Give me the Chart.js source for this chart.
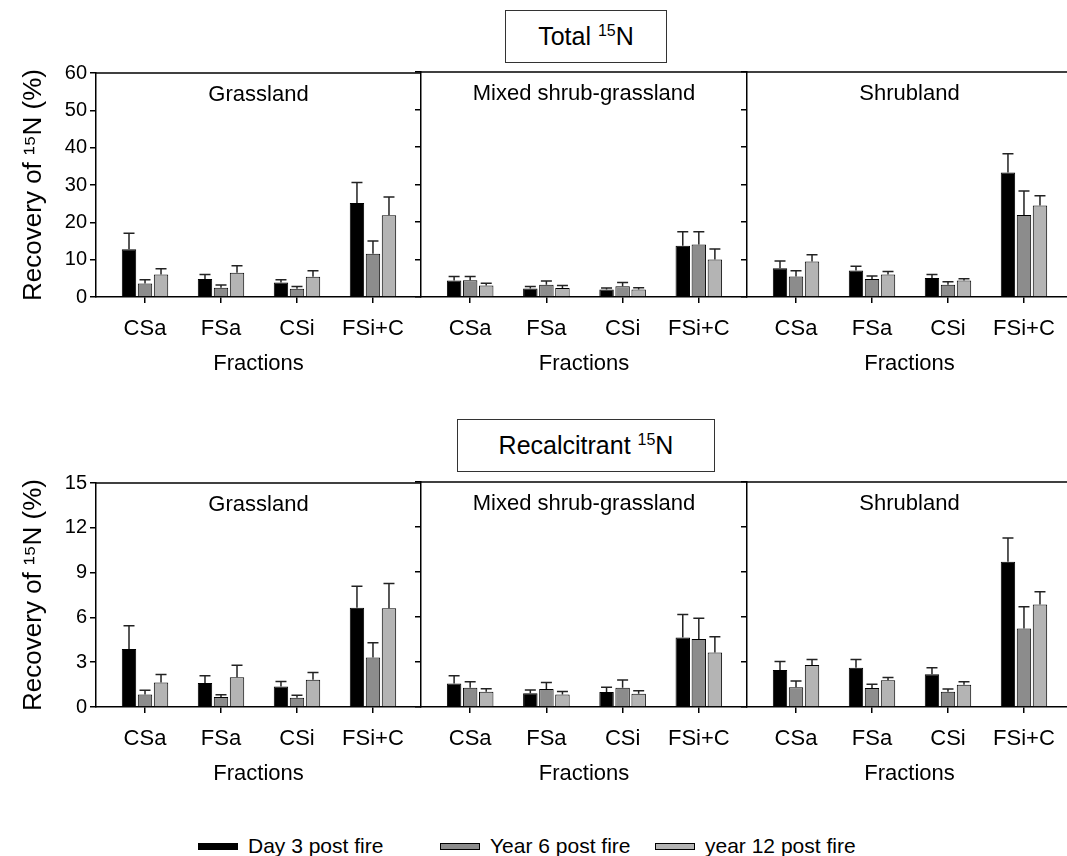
<!DOCTYPE html>
<html>
<head>
<meta charset="utf-8">
<script src="https://cdn.jsdelivr.net/npm/chart.js@4.4.0/dist/chart.umd.min.js"></script>
<style>
  html, body { margin: 0; padding: 0; background: #fff; }
  body { width: 1067px; height: 856px; overflow: hidden; position: relative;
         font-family: "Liberation Sans", Arial, sans-serif; color: #000; }
  canvas { position: absolute; }
  .box { position: absolute; border: 1px solid #333; box-sizing: border-box;
         text-align: center; font-size: 25px; line-height: 51px; }
  .box sup { font-size: 16px; line-height: 0; }
  .item { position: absolute; top: 834px; font-size: 21px; line-height: 24px; white-space: nowrap; }
  .sw { display: inline-block; width: 38px; height: 5px; border: 1px solid #000;
        vertical-align: middle; margin-right: 10px; position: relative; top: -1px; }
</style>
</head>
<body>
<div class="box" style="left:505px; top:10px; width:162px; height:53px;">Total <sup>15</sup>N</div>
<div class="box" style="left:457px; top:419px; width:258px; height:53px;">Recalcitrant <sup>15</sup>N</div>

<canvas id="t0" width="421" height="320" style="left:0px; top:58px;"></canvas>
<canvas id="t1" width="332" height="320" style="left:415px; top:58px;"></canvas>
<canvas id="t2" width="331" height="320" style="left:741px; top:58px;"></canvas>
<canvas id="r0" width="421" height="320" style="left:0px; top:468px;"></canvas>
<canvas id="r1" width="332" height="320" style="left:415px; top:468px;"></canvas>
<canvas id="r2" width="331" height="320" style="left:741px; top:468px;"></canvas>

<div class="item" style="left:198px;"><span class="sw" style="background:#000000"></span>Day 3 post fire</div>
<div class="item" style="left:440px;"><span class="sw" style="background:#8c8c8c"></span>Year 6 post fire</div>
<div class="item" style="left:655px;"><span class="sw" style="background:#b4b4b4"></span>year 12 post fire</div>

<script>
const fractions = ['CSa', 'FSa', 'CSi', 'FSi+C'];
const sites = ['Grassland', 'Mixed shrub-grassland', 'Shrubland'];
const seriesNames = ['Day 3 post fire', 'Year 6 post fire', 'year 12 post fire'];
const seriesColors = ['#000000', '#8c8c8c', '#b4b4b4'];

// values per series: 4 fractions for each site, in site order
const totalDay3   = [12.8, 4.8, 3.9, 25.2,  4.4, 2.3, 2.0, 13.7,  7.7, 7.1, 5.1, 33.2];
const totalYear6  = [3.6, 2.5, 2.2, 11.6,   4.5, 3.3, 2.9, 14.0,  5.5, 4.8, 3.3, 21.9];
const totalYear12 = [6.0, 6.5, 5.4, 21.9,   3.1, 2.4, 2.0, 10.0,  9.5, 6.0, 4.4, 24.4];
const totalDay3Se   = [4.3, 1.2, 0.7, 5.5,  1.1, 0.5, 0.4, 3.7,  1.9, 1.1, 0.9, 5.0];
const totalYear6Se  = [1.0, 0.7, 0.6, 3.4,  1.0, 1.0, 1.0, 3.4,  1.5, 0.8, 0.8, 6.4];
const totalYear12Se = [1.6, 1.9, 1.6, 4.9,  0.6, 0.7, 0.5, 2.8,  1.8, 0.8, 0.5, 2.6];

const recalDay3   = [3.89, 1.60, 1.38, 6.64,  1.56, 0.91, 1.00, 4.64,  2.47, 2.62, 2.18, 9.69];
const recalYear6  = [0.84, 0.67, 0.62, 3.31,  1.29, 1.20, 1.29, 4.53,  1.31, 1.27, 1.02, 5.24];
const recalYear12 = [1.64, 2.00, 1.82, 6.62,  1.02, 0.84, 0.89, 3.64,  2.80, 1.78, 1.49, 6.84];
const recalDay3Se   = [1.55, 0.49, 0.33, 1.45,  0.53, 0.22, 0.31, 1.52,  0.57, 0.54, 0.44, 1.58];
const recalYear6Se  = [0.29, 0.15, 0.16, 1.00,  0.40, 0.44, 0.51, 1.38,  0.42, 0.24, 0.18, 1.45];
const recalYear12Se = [0.54, 0.80, 0.49, 1.65,  0.20, 0.20, 0.20, 1.05,  0.36, 0.18, 0.20, 0.85];

const totalYTicks = [0, 10, 20, 30, 40, 50, 60];
const recalYTicks = [0, 3, 6, 9, 12, 15];

Chart.defaults.font.family = '"Liberation Sans", Arial, sans-serif';
Chart.defaults.color = '#000';

// top frame line + site name inside the plot
const panelFrame = {
    id: 'panelFrame',
    afterDraw(chart, args, opts) {
        const { ctx, chartArea: a } = chart;
        ctx.save();
        ctx.strokeStyle = '#000';
        ctx.lineWidth = 1.5;
        ctx.beginPath();
        ctx.moveTo(a.left, a.top);
        ctx.lineTo(a.right, a.top);
        ctx.stroke();
        ctx.font = '22px "Liberation Sans", Arial, sans-serif';
        ctx.fillStyle = '#000';
        ctx.textAlign = 'center';
        ctx.textBaseline = 'middle';
        ctx.fillText(opts.text, (a.left + a.right) / 2, a.top + 22);
        ctx.restore();
    }
};

// upper error bars
const errorBars = {
    id: 'errorBars',
    afterDatasetsDraw(chart) {
        const { ctx } = chart;
        const yScale = chart.scales.y;
        ctx.save();
        ctx.strokeStyle = '#222';
        ctx.lineWidth = 1.5;
        chart.data.datasets.forEach((ds, di) => {
            chart.getDatasetMeta(di).data.forEach((bar, i) => {
                const top = yScale.getPixelForValue(ds.data[i].y + ds.errors[i]);
                ctx.beginPath();
                ctx.moveTo(bar.x, bar.y);
                ctx.lineTo(bar.x, top);
                ctx.moveTo(bar.x - 5.5, top);
                ctx.lineTo(bar.x + 5.5, top);
                ctx.stroke();
            });
        });
        ctx.restore();
    }
};

function makePanel(id, siteIdx, values, errors, yTicks) {
    const first = siteIdx === 0;
    const from = siteIdx * 4;
    const datasets = values.map((vals, s) => ({
        label: seriesNames[s],
        data: vals.slice(from, from + 4).map((v, i) => ({ x: i, y: v })),
        errors: errors[s].slice(from, from + 4),
        backgroundColor: seriesColors[s],
        borderColor: '#000',
        borderWidth: 1,
        categoryPercentage: 0.632,
        barPercentage: 0.9
    }));

    new Chart(document.getElementById(id), {
        type: 'bar',
        data: { datasets },
        plugins: [panelFrame, errorBars],
        options: {
            responsive: false,
            animation: false,
            devicePixelRatio: 1,
            layout: { padding: { top: 14, right: 0, bottom: 0, left: 0 } },
            plugins: {
                legend: { display: false },
                tooltip: { enabled: false },
                panelFrame: { text: sites[siteIdx] }
            },
            scales: {
                x: {
                    type: 'linear',
                    min: -0.645,
                    max: 3.632,
                    bounds: 'data',
                    offset: false,
                    afterBuildTicks: s => { s.ticks = fractions.map((f, i) => ({ value: i })); },
                    afterFit: s => { s.height = 81; },
                    grid: { display: true, offset: false, drawOnChartArea: false, tickLength: 6, color: '#000', lineWidth: 1.5 },
                    border: { display: true, color: '#000', width: 1.5 },
                    ticks: { callback: v => fractions[v], color: '#000', font: { size: 22 }, padding: 13, maxRotation: 0, autoSkip: false },
                    title: { display: true, text: 'Fractions', color: '#000', font: { size: 22 }, padding: { top: 0, bottom: 1 } }
                },
                y: {
                    min: 0,
                    max: yTicks[yTicks.length - 1],
                    afterBuildTicks: s => { s.ticks = yTicks.map(v => ({ value: v })); },
                    afterFit: s => { s.width = first ? 96 : 6; },
                    grid: { drawOnChartArea: false, tickLength: 6, color: '#000', lineWidth: 1.5 },
                    border: { display: true, color: '#000', width: 1.5 },
                    ticks: { display: first, color: '#000', font: { size: 20 }, padding: 3 },
                    title: { display: first, text: 'Recovery of ¹⁵N (%)', color: '#000', font: { size: 26 }, padding: { top: 18, bottom: 0 } }
                }
            }
        }
    });
}

for (let k = 0; k < 3; k++) {
    makePanel('t' + k, k, [totalDay3, totalYear6, totalYear12], [totalDay3Se, totalYear6Se, totalYear12Se], totalYTicks);
    makePanel('r' + k, k, [recalDay3, recalYear6, recalYear12], [recalDay3Se, recalYear6Se, recalYear12Se], recalYTicks);
}
</script>
</body>
</html>
